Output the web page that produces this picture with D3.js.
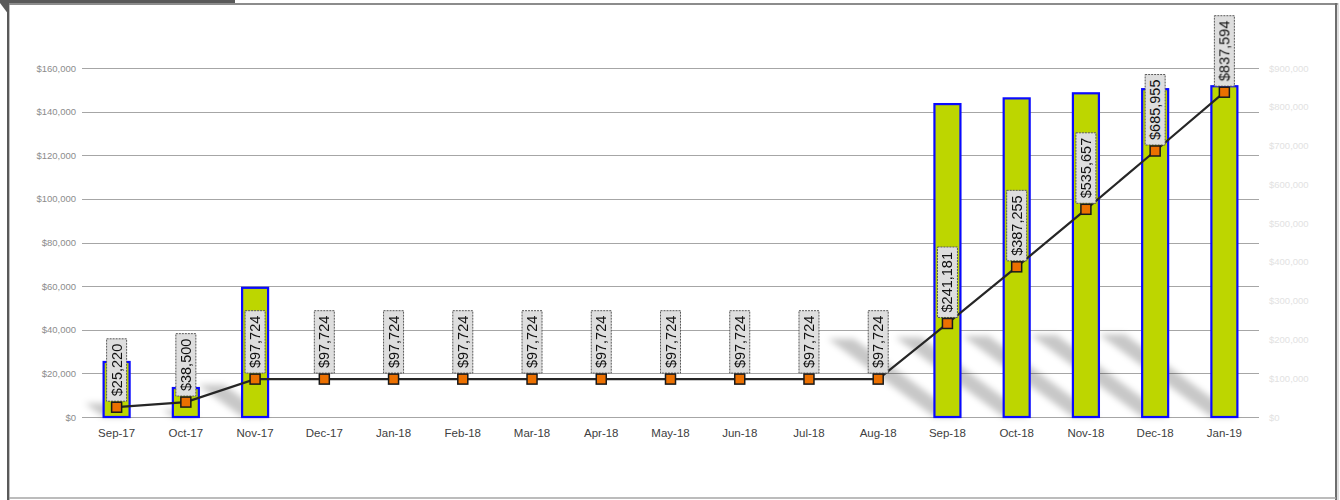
<!DOCTYPE html>
<style>
  body { margin: 0; background: #fff; }
  svg { display: block; }
  .axis text { font-family: "Liberation Sans", Arial, sans-serif; }
  .lbl text { font-family: "Liberation Sans", Arial, sans-serif; font-size: 14.5px; fill: #111; }
</style>
<body>
</body>
<script src="https://cdn.jsdelivr.net/npm/d3@7/dist/d3.min.js"></script>
<script>
  const months = ['Sep-17', 'Oct-17', 'Nov-17', 'Dec-17', 'Jan-18', 'Feb-18', 'Mar-18', 'Apr-18',
    'May-18', 'Jun-18', 'Jul-18', 'Aug-18', 'Sep-18', 'Oct-18', 'Nov-18', 'Dec-18', 'Jan-19'];
  // monthly amount (bars, left axis)
  const monthly = [25220, 13280, 59224, 0, 0, 0, 0, 0, 0, 0, 0, 0, 143457, 146074, 148402, 150298, 151639];
  // running total (line, right axis)
  const cumulative = [25220, 38500, 97724, 97724, 97724, 97724, 97724, 97724, 97724, 97724, 97724,
    97724, 241181, 387255, 535657, 685955, 837594];
  const leftTicks = [0, 20000, 40000, 60000, 80000, 100000, 120000, 140000, 160000];
  const rightTicks = [0, 100000, 200000, 300000, 400000, 500000, 600000, 700000, 800000, 900000];

  const W = 1340, H = 500;
  const l = 82, r = 1259, t = 68, b = 417;

  const svg = d3.select('body').append('svg').attr('width', W).attr('height', H);

  const defs = svg.append('defs');
  defs.append('filter').attr('id', 'blur')
    .attr('x', '-50%').attr('y', '-50%').attr('width', '200%').attr('height', '200%')
    .append('feGaussianBlur').attr('stdDeviation', 3);

  // frame
  svg.append('rect').attr('x', 0).attr('y', 0).attr('width', 235).attr('height', 3).attr('fill', '#595959');
  svg.append('polygon').attr('points', '0,3 9,3 9,15').attr('fill', '#595959');
  svg.append('line').attr('x1', 8).attr('x2', 1338).attr('y1', 4).attr('y2', 4)
    .attr('stroke', '#8c8c8c').attr('stroke-width', 2);
  svg.append('line').attr('x1', 8).attr('x2', 8).attr('y1', 3).attr('y2', 500)
    .attr('stroke', '#595959').attr('stroke-width', 2);
  svg.append('line').attr('x1', 9.5).attr('x2', 9.5).attr('y1', 5).attr('y2', 500)
    .attr('stroke', '#bfbfbf').attr('stroke-width', 1);
  svg.append('line').attr('x1', 1336).attr('x2', 1336).attr('y1', 3).attr('y2', 500)
    .attr('stroke', '#6e6e6e').attr('stroke-width', 2);
  svg.append('line').attr('x1', 1338).attr('x2', 1338).attr('y1', 3).attr('y2', 500)
    .attr('stroke', '#bfbfbf').attr('stroke-width', 1);
  svg.append('line').attr('x1', 9).attr('x2', 1336).attr('y1', 498).attr('y2', 498)
    .attr('stroke', '#a6a6a6').attr('stroke-width', 1.5);

  const x = d3.scaleBand().domain(months).range([l, r]);
  const yL = d3.scaleLinear().domain([0, 160000]).range([b, t]);
  const yR = d3.scaleLinear().domain([0, 900000]).range([b, t]);
  const money = d3.format('$,');

  // gridlines
  svg.append('g')
    .selectAll('line').data(leftTicks).join('line')
    .attr('x1', l).attr('x2', r)
    .attr('y1', d => Math.round(yL(d)) + 0.5).attr('y2', d => Math.round(yL(d)) + 0.5)
    .attr('stroke', '#a6a6a6').attr('stroke-width', 1);

  // left axis
  const gl = svg.append('g').attr('class', 'axis')
    .attr('transform', `translate(${l}, 0)`)
    .call(d3.axisLeft(yL).tickValues(leftTicks).tickFormat(money).tickSize(0).tickPadding(6));
  gl.select('.domain').remove();
  gl.selectAll('text').attr('fill', '#8c8c8c').style('font-size', '9.5px');

  // right axis
  const gr = svg.append('g').attr('class', 'axis')
    .attr('transform', `translate(${r}, 0)`)
    .call(d3.axisRight(yR).tickValues(rightTicks).tickFormat(money).tickSize(0).tickPadding(10));
  gr.select('.domain').remove();
  gr.selectAll('text').attr('fill', '#e2e2e2').style('font-size', '9.5px');

  // bottom axis
  const gb = svg.append('g').attr('class', 'axis')
    .attr('transform', `translate(0, ${b})`)
    .call(d3.axisBottom(x).tickSize(0).tickPadding(12));
  gb.select('.domain').remove();
  gb.selectAll('text').attr('fill', '#404040').style('font-size', '11.5px');

  const bw = 26;
  const data = months.map((m, i) => ({m, v: monthly[i], c: cumulative[i]}));

  // perspective shadows of the bars
  svg.append('g').attr('filter', 'url(#blur)')
    .selectAll('polygon').data(data.filter(d => d.v > 0)).join('polygon')
    .attr('points', d => {
      const x0 = x(d.m) + x.bandwidth() / 2 - bw / 2, x1 = x0 + bw;
      const h = b - yL(d.v);
      const dx = -0.34 * h, dy = -0.25 * h;
      return [[x0, b], [x1, b], [x1 + dx, b + dy], [x0 + dx, b + dy]].join(' ');
    })
    .attr('fill', '#000').attr('opacity', 0.22);

  // bars
  svg.append('g')
    .selectAll('rect').data(data.filter(d => d.v > 0)).join('rect')
    .attr('x', d => x(d.m) + x.bandwidth() / 2 - bw / 2)
    .attr('y', d => yL(d.v))
    .attr('width', bw)
    .attr('height', d => b - yL(d.v))
    .attr('fill', '#bdd600')
    .attr('stroke', '#0a0aff').attr('stroke-width', 2.2);

  // cumulative line
  const line = d3.line().x(d => x(d.m) + x.bandwidth() / 2).y(d => yR(d.c));
  svg.append('path').datum(data)
    .attr('d', line)
    .attr('fill', 'none').attr('stroke', '#262626').attr('stroke-width', 2.2);

  // labels
  const lbl = svg.append('g').attr('class', 'lbl')
    .selectAll('g').data(data).join('g')
    .attr('transform', d => `translate(${x(d.m) + x.bandwidth() / 2}, ${yR(d.c) - 6})`);
  lbl.append('text')
    .attr('transform', 'rotate(-90)')
    .attr('x', 5).attr('y', 5)
    .text(d => money(d.c));
  lbl.each(function () {
    const g = d3.select(this);
    const len = g.select('text').node().getComputedTextLength();
    g.insert('rect', 'text')
      .attr('x', -10).attr('y', -len - 10)
      .attr('width', 20).attr('height', len + 10)
      .attr('fill', '#dedede')
      .attr('stroke', '#595959').attr('stroke-width', 1).attr('stroke-dasharray', '2,1');
  });

  // markers
  svg.append('g')
    .selectAll('rect').data(data).join('rect')
    .attr('x', d => x(d.m) + x.bandwidth() / 2 - 5)
    .attr('y', d => yR(d.c) - 5)
    .attr('width', 10).attr('height', 10)
    .attr('fill', '#ec7000')
    .attr('stroke', '#1a1a1a').attr('stroke-width', 1.5);
</script>
